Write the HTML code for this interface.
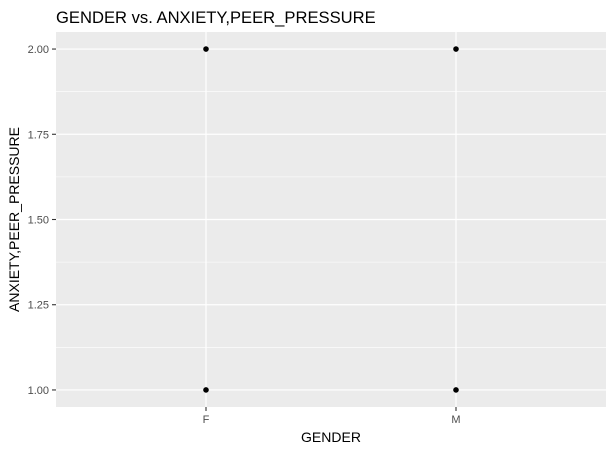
<!DOCTYPE html>
<html><head><meta charset="utf-8"><style>body{margin:0;background:#fff}svg{display:block;font-family:"Liberation Sans",Arial,sans-serif}</style></head>
<body>
<svg id="c" width="612" height="452"></svg>
<script>
const categories=["F","M"];
const pointsX=["F","F","M","M"];
const pointsY=[2,1,2,1];
const yTicks=[1.00,1.25,1.50,1.75,2.00];
const yTickLabels=["1.00","1.25","1.50","1.75","2.00"];
const NS="http://www.w3.org/2000/svg";
const svg=document.getElementById('c');
const L=56,R=606,T=32,B=407;
const yMin=0.95,yMax=2.05;
const y=v=>B-(v-yMin)/(yMax-yMin)*(B-T);
const step=(R-L)/(categories.length-1+1.2);
const x=c=>L+step*(0.6+categories.indexOf(c));
function mk(t,a,p){const e=document.createElementNS(NS,t);for(const k in a)e.setAttribute(k,a[k]);(p||svg).appendChild(e);return e;}
const panel=mk('rect',{x:L,y:T,width:R-L,height:B-T,fill:'#EBEBEB'});


for(let i=0;i<yTicks.length-1;i++){const v=(yTicks[i]+yTicks[i+1])/2;const g=mk('line',{x1:L,x2:R,y1:y(v),y2:y(v),stroke:'#fff','stroke-width':0.6});

}
yTicks.forEach((v,i)=>{const g=mk('line',{x1:L,x2:R,y1:y(v),y2:y(v),stroke:'#fff','stroke-width':1.2});


const tk=mk('line',{x1:L-4,x2:L,y1:y(v),y2:y(v),stroke:'#333','stroke-width':1.1});


const t=mk('text',{x:L-7,y:y(v)+4,'text-anchor':'end','font-size':11,fill:'#4D4D4D'});t.textContent=yTickLabels[i];

});
categories.forEach(c=>{const g=mk('line',{x1:x(c),x2:x(c),y1:T,y2:B,stroke:'#fff','stroke-width':1.2});


const tk=mk('line',{x1:x(c),x2:x(c),y1:B,y2:B+4,stroke:'#333','stroke-width':1.1});


const t=mk('text',{x:x(c),y:B+16,'text-anchor':'middle','font-size':11,fill:'#4D4D4D'});t.textContent=c;

});
pointsX.forEach((c,i)=>{const p=mk('circle',{cx:x(c),cy:y(pointsY[i]),r:2.8,fill:'#000'});

});
let t=mk('text',{x:56,y:23,'font-size':16.6,fill:'#000'});t.textContent='GENDER vs. ANXIETY,PEER_PRESSURE';


t=mk('text',{x:(L+R)/2,y:442,'text-anchor':'middle','font-size':14,fill:'#000'});t.textContent='GENDER';


t=mk('text',{x:0,y:0,'text-anchor':'middle','font-size':14,fill:'#000',transform:`translate(19,${(T+B)/2}) rotate(-90)`});t.textContent='ANXIETY,PEER_PRESSURE';


</script>
</body></html>
